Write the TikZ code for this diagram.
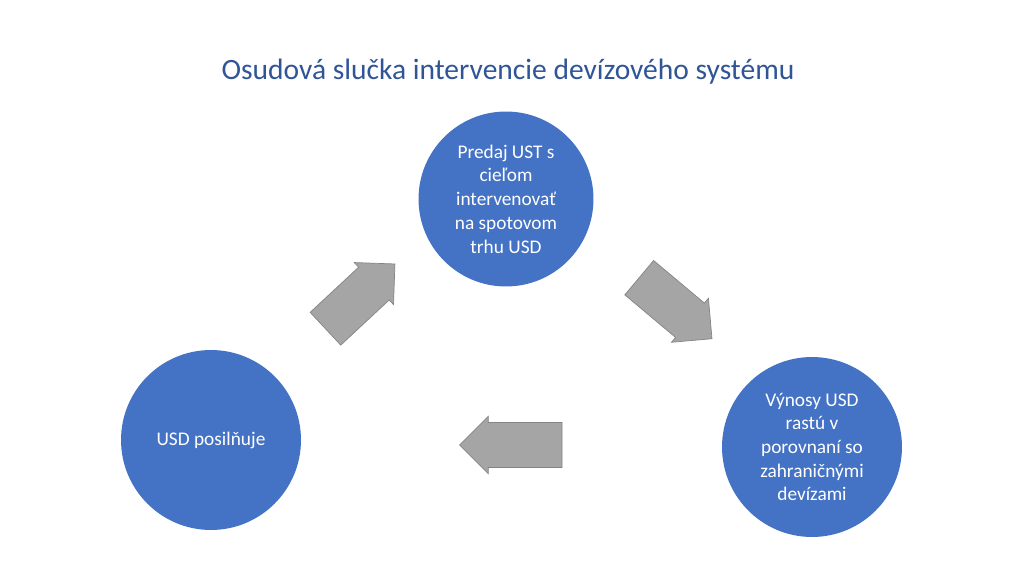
\documentclass[tikz,border=0pt]{standalone}
\usepackage{fontspec}
\setmainfont{Carlito}
\usetikzlibrary{shapes.arrows}
\definecolor{circ-blue}{RGB}{68,114,196}
\definecolor{title-blue}{RGB}{47,85,151}
\definecolor{arr-gray}{RGB}{165,165,165}
\tikzset{
	bubble/.style={circle,fill=circ-blue,text=white,align=center,font=\fontsize{11}{13.5}\selectfont},
	blockarrow/.style={single arrow,fill=arr-gray,draw=arr-gray!80!black,thin,minimum width=1.15cm,single arrow head extend=0.05cm,inner sep=0.17cm}
}
\begin{document}
\begin{tikzpicture}[x=0.02cm,y=0.02cm]
	\useasboundingbox (0,0) rectangle (1024,576);
	%title
	\node[text=title-blue,font=\fontsize{16.8}{20}\selectfont] (title) at (508,504) {Osudová slučka intervencie devízového systému};
	%circles
	\node[bubble,minimum size=3.5cm] (sell) at (506,377) {Predaj UST s\\cieľom\\intervenovať\\na spotovom\\trhu USD};
	\node[bubble,minimum size=3.6cm] (yield) at (812,129) {Výnosy USD\\rastú v\\porovnaní so\\zahraničnými\\devízami};
	\node[bubble,minimum size=3.6cm] (strong) at (211,136) {USD posilňuje};
	%arrows
	\node[blockarrow,minimum height=1.9cm,rotate=43] (a1) at (352,272) {};
	\node[blockarrow,minimum height=1.9cm,rotate=-40] (a2) at (667,275) {};
	\node[blockarrow,minimum height=2.05cm,rotate=180] (a3) at (522,131) {};
\end{tikzpicture}
\end{document}
